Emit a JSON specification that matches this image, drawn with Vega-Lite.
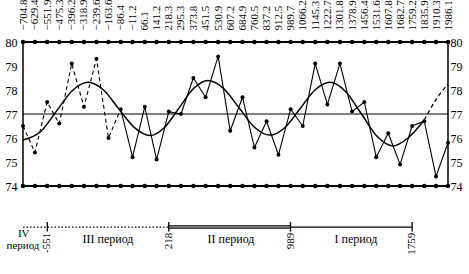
{
  "$schema": "https://vega.github.io/schema/vega-lite/v6.json",
  "width": 425,
  "height": 228,
  "autosize": {"type": "none"},
  "padding": {"left": 23, "top": 42, "right": 21, "bottom": 4},
  "background": "white",
  "config": {
    "view": {"stroke": null},
    "font": "Liberation Serif",
    "text": {"font": "Liberation Serif", "color": "black"},
    "axis": {"labelFont": "Liberation Serif", "labelColor": "black", "grid": false, "domain": false, "ticks": false}
  },
  "datasets": {
    "pts": [
      {"year": -704.8, "value": 76.5}, {"year": -629.4, "value": 75.4}, {"year": -551.9, "value": 77.5},
      {"year": -475.3, "value": 76.6}, {"year": -396.2, "value": 79.1}, {"year": -318.9, "value": 77.3},
      {"year": -239.6, "value": 79.3}, {"year": -163.6, "value": 76.0}, {"year": -86.4, "value": 77.2},
      {"year": -11.2, "value": 75.2}, {"year": 66.1, "value": 77.3}, {"year": 141.2, "value": 75.1},
      {"year": 218.3, "value": 77.1}, {"year": 295.3, "value": 77.0}, {"year": 373.8, "value": 78.5},
      {"year": 451.5, "value": 77.7}, {"year": 530.9, "value": 79.4}, {"year": 607.2, "value": 76.3},
      {"year": 684.9, "value": 77.7}, {"year": 760.5, "value": 75.6}, {"year": 837.2, "value": 76.7},
      {"year": 912.5, "value": 75.3}, {"year": 989.7, "value": 77.2}, {"year": 1066.2, "value": 76.5},
      {"year": 1145.3, "value": 79.1}, {"year": 1222.7, "value": 77.4}, {"year": 1301.8, "value": 79.1},
      {"year": 1378.9, "value": 77.1}, {"year": 1456.4, "value": 77.5}, {"year": 1531.6, "value": 75.2},
      {"year": 1607.8, "value": 76.2}, {"year": 1682.7, "value": 74.9}, {"year": 1759.2, "value": 76.5},
      {"year": 1835.9, "value": 76.7}, {"year": 1910.3, "value": 74.4}, {"year": 1986.1, "value": 75.8}
    ],
    "curve": [
      {"year": -704.8, "value": 75.92}, {"year": -592.4, "value": 76.27}, {"year": -492.7, "value": 77.12},
      {"year": -393.0, "value": 77.97}, {"year": -293.3, "value": 78.32}, {"year": -195.1, "value": 78.0},
      {"year": -97.0, "value": 77.2}, {"year": 1.2, "value": 76.43}, {"year": 99.3, "value": 76.1},
      {"year": 191.1, "value": 76.44}, {"year": 283.0, "value": 77.25}, {"year": 374.7, "value": 78.06},
      {"year": 466.5, "value": 78.4}, {"year": 564.7, "value": 78.07}, {"year": 662.8, "value": 77.26},
      {"year": 760.9, "value": 76.45}, {"year": 859.1, "value": 76.12}, {"year": 954.1, "value": 76.44},
      {"year": 1049.0, "value": 77.22}, {"year": 1144.0, "value": 78.0}, {"year": 1239.0, "value": 78.32},
      {"year": 1338.7, "value": 77.93}, {"year": 1438.4, "value": 77.0}, {"year": 1538.1, "value": 76.06},
      {"year": 1637.9, "value": 75.67}, {"year": 1732.8, "value": 76.0}, {"year": 1835.9, "value": 76.75},
      {"year": 1910.1, "value": 77.6}, {"year": 1986.1, "value": 78.25}
    ],
    "bounds": [
      {"year": -551, "label": "-551"}, {"year": 218, "label": "218"},
      {"year": 989, "label": "989"}, {"year": 1759, "label": "1759"}
    ],
    "periods": [
      {"year": -166.6, "label": "III период"}, {"year": 612.2, "label": "II период"}, {"year": 1403.6, "label": "I период"}
    ]
  },
  "resolve": {"axis": {"y": "independent", "x": "independent"}},
  "layer": [
    {
      "data": {"name": "pts"},
      "mark": {"type": "point", "filled": true, "color": "black", "size": 16, "opacity": 1},
      "encoding": {
        "x": {"field": "year", "type": "quantitative",
              "scale": {"domain": [-704.8, 1986.1], "nice": false, "zero": false},
              "axis": {"orient": "top", "title": null, "values": [-704.8,-629.4,-551.9,-475.3,-396.2,-318.9,-239.6,-163.6,-86.4,-11.2,66.1,141.2,218.3,295.3,373.8,451.5,530.9,607.2,684.9,760.5,837.2,912.5,989.7,1066.2,1145.3,1222.7,1301.8,1378.9,1456.4,1531.6,1607.8,1682.7,1759.2,1835.9,1910.3,1986.1],
                       "format": ".1f", "labelAngle": -90, "labelPadding": 12, "labelFontSize": 11, "labelOverlap": false, "labelFlush": false}},
        "y": {"field": "value", "type": "quantitative",
              "scale": {"domain": [70.5, 80], "nice": false, "zero": false},
              "axis": {"orient": "left", "title": null, "values": [74, 75, 76, 77, 78, 79, 80], "labelPadding": 6, "labelFontSize": 12}}
      }
    },
    {
      "data": {"values": [{}]},
      "mark": {"type": "rule", "color": "black", "strokeWidth": 1},
      "encoding": {
        "x": {"datum": -704.8, "type": "quantitative", "axis": null},
        "x2": {"datum": 1986.1},
        "y": {"datum": 77, "type": "quantitative",
              "axis": {"orient": "right", "title": null, "values": [74, 75, 76, 77, 78, 79, 80], "labelPadding": 2, "labelFontSize": 12}}
      }
    },
    {
      "data": {"values": [{}]},
      "mark": {"type": "rule", "color": "black", "strokeWidth": 2},
      "encoding": {
        "x": {"datum": -704.8, "type": "quantitative", "axis": null},
        "x2": {"datum": 1986.1},
        "y": {"datum": 80, "type": "quantitative", "axis": null}
      }
    },
    {
      "data": {"values": [{}]},
      "mark": {"type": "rule", "color": "black", "strokeWidth": 2},
      "encoding": {
        "x": {"datum": -704.8, "type": "quantitative", "axis": null},
        "x2": {"datum": 1986.1},
        "y": {"datum": 74, "type": "quantitative", "axis": null}
      }
    },
    {
      "data": {"values": [{"year": -704.8}, {"year": 1986.1}]},
      "mark": {"type": "rule", "color": "black", "strokeWidth": 1.5},
      "encoding": {
        "x": {"field": "year", "type": "quantitative", "axis": null},
        "y": {"datum": 74, "type": "quantitative", "axis": null},
        "y2": {"datum": 80}
      }
    },
    {
      "data": {"name": "pts"},
      "mark": {"type": "point", "filled": true, "color": "black", "size": 20, "opacity": 1},
      "encoding": {
        "x": {"field": "year", "type": "quantitative", "axis": null},
        "y": {"datum": 80, "type": "quantitative", "axis": null}
      }
    },
    {
      "data": {"name": "pts"},
      "mark": {"type": "point", "filled": true, "color": "black", "size": 20, "opacity": 1},
      "encoding": {
        "x": {"field": "year", "type": "quantitative", "axis": null},
        "y": {"datum": 74, "type": "quantitative", "axis": null}
      }
    },
    {
      "data": {"name": "pts"},
      "transform": [{"filter": "datum.year <= -86.4"}],
      "mark": {"type": "line", "color": "black", "strokeWidth": 1.1, "strokeDash": [4, 3]},
      "encoding": {
        "x": {"field": "year", "type": "quantitative", "axis": null},
        "y": {"field": "value", "type": "quantitative", "axis": null}
      }
    },
    {
      "data": {"name": "pts"},
      "transform": [{"filter": "datum.year >= -86.4"}],
      "mark": {"type": "line", "color": "black", "strokeWidth": 1.1},
      "encoding": {
        "x": {"field": "year", "type": "quantitative", "axis": null},
        "y": {"field": "value", "type": "quantitative", "axis": null}
      }
    },
    {
      "data": {"name": "curve"},
      "transform": [{"filter": "datum.year <= 1835.9"}],
      "mark": {"type": "line", "color": "black", "strokeWidth": 1.5, "interpolate": "monotone"},
      "encoding": {
        "x": {"field": "year", "type": "quantitative", "axis": null},
        "y": {"field": "value", "type": "quantitative", "axis": null}
      }
    },
    {
      "data": {"name": "curve"},
      "transform": [{"filter": "datum.year >= 1835.9"}],
      "mark": {"type": "line", "color": "black", "strokeWidth": 1.3, "interpolate": "monotone", "strokeDash": [4, 3]},
      "encoding": {
        "x": {"field": "year", "type": "quantitative", "axis": null},
        "y": {"field": "value", "type": "quantitative", "axis": null}
      }
    },
    {
      "data": {"values": [{}]},
      "mark": {"type": "rule", "color": "black", "strokeWidth": 1.2, "strokeDash": [1.5, 2]},
      "encoding": {
        "x": {"datum": -704.8, "type": "quantitative", "axis": null},
        "x2": {"datum": 218},
        "y": {"datum": 72.29, "type": "quantitative", "axis": null}
      }
    },
    {
      "data": {"values": [{}]},
      "mark": {"type": "rule", "color": "black", "strokeWidth": 3.5},
      "encoding": {
        "x": {"datum": 218, "type": "quantitative", "axis": null},
        "x2": {"datum": 989},
        "y": {"datum": 72.29, "type": "quantitative", "axis": null}
      }
    },
    {
      "data": {"values": [{}]},
      "mark": {"type": "rule", "color": "#9a9a9a", "strokeWidth": 1.5},
      "encoding": {
        "x": {"datum": 218, "type": "quantitative", "axis": null},
        "x2": {"datum": 989},
        "y": {"datum": 72.29, "type": "quantitative", "axis": null}
      }
    },
    {
      "data": {"values": [{}]},
      "mark": {"type": "rule", "color": "black", "strokeWidth": 1.3},
      "encoding": {
        "x": {"datum": 989, "type": "quantitative", "axis": null},
        "x2": {"datum": 1759},
        "y": {"datum": 72.29, "type": "quantitative", "axis": null}
      }
    },
    {
      "data": {"name": "bounds"},
      "mark": {"type": "rule", "color": "black", "strokeWidth": 1.3},
      "encoding": {
        "x": {"field": "year", "type": "quantitative", "axis": null},
        "y": {"datum": 72.5, "type": "quantitative", "axis": null},
        "y2": {"datum": 72.1}
      }
    },
    {
      "data": {"name": "bounds"},
      "mark": {"type": "text", "angle": 270, "align": "right", "baseline": "middle", "fontSize": 11},
      "encoding": {
        "x": {"field": "year", "type": "quantitative", "axis": null},
        "y": {"datum": 72.05, "type": "quantitative", "axis": null},
        "text": {"field": "label"}
      }
    },
    {
      "data": {"name": "periods"},
      "mark": {"type": "text", "align": "center", "baseline": "middle", "fontSize": 12},
      "encoding": {
        "x": {"field": "year", "type": "quantitative", "axis": null},
        "y": {"datum": 71.8, "type": "quantitative", "axis": null},
        "text": {"field": "label"}
      }
    },
    {
      "data": {"values": [{"year": -700, "label": "IV"}]},
      "mark": {"type": "text", "align": "center", "baseline": "middle", "fontSize": 11},
      "encoding": {
        "x": {"field": "year", "type": "quantitative", "axis": null},
        "y": {"datum": 72.0, "type": "quantitative", "axis": null},
        "text": {"field": "label"}
      }
    },
    {
      "data": {"values": [{"year": -704.8, "label": "период"}]},
      "mark": {"type": "text", "align": "center", "baseline": "middle", "fontSize": 11},
      "encoding": {
        "x": {"field": "year", "type": "quantitative", "axis": null},
        "y": {"datum": 71.5, "type": "quantitative", "axis": null},
        "text": {"field": "label"}
      }
    }
  ]
}
